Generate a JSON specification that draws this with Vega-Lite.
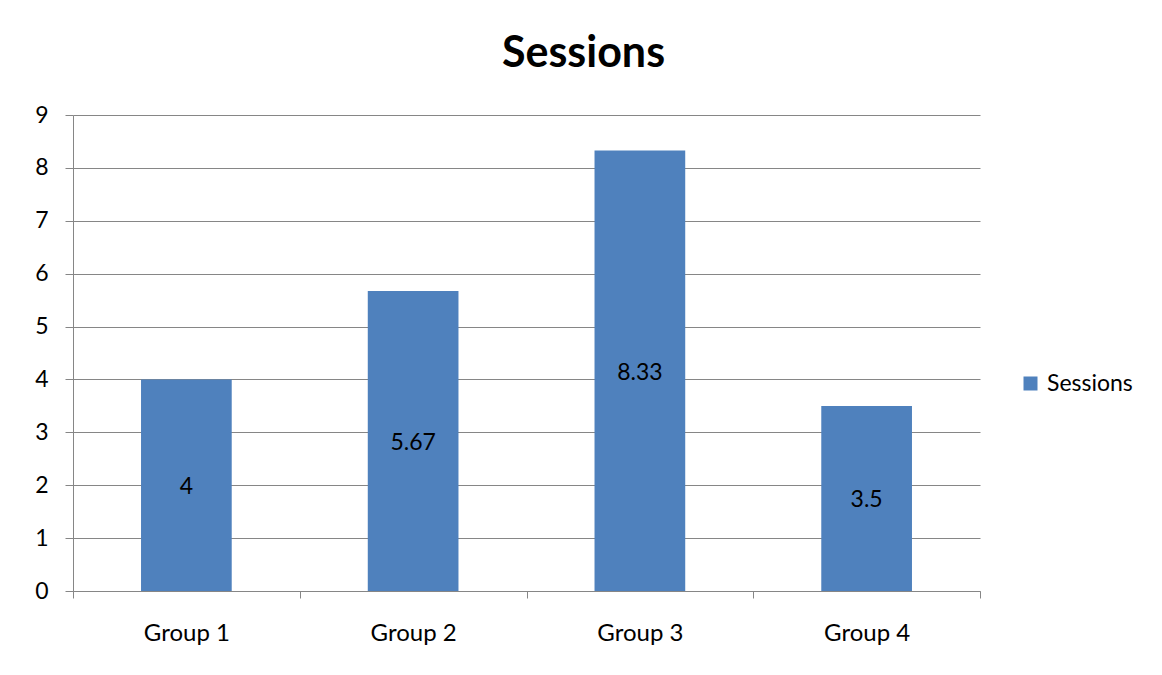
{
  "$schema": "https://vega.github.io/schema/vega-lite/v6.json",
  "width": 907,
  "height": 476,
  "autosize": "none",
  "padding": {"left": 73, "top": 115, "right": 182, "bottom": 84},
  "background": "white",
  "title": {
    "text": "Sessions",
    "font": "Lato",
    "fontSize": 43,
    "fontWeight": "bold",
    "color": "black",
    "anchor": "middle",
    "frame": "group",
    "dx": 57,
    "baseline": "alphabetic",
    "offset": -6
  },
  "data": {
    "values": [
      {"group": "Group 1", "value": 4, "series": "Sessions"},
      {"group": "Group 2", "value": 5.67, "series": "Sessions"},
      {"group": "Group 3", "value": 8.33, "series": "Sessions"},
      {"group": "Group 4", "value": 3.5, "series": "Sessions"}
    ]
  },
  "encoding": {
    "x": {
      "field": "group",
      "type": "nominal",
      "sort": null,
      "scale": {"paddingInner": 0, "paddingOuter": 0},
      "axis": {
        "title": null,
        "labelAngle": 0,
        "tickBand": "extent",
        "tickSize": 7,
        "tickColor": "#868686",
        "domainColor": "#868686",
        "labelFont": "Lato",
        "labelFontSize": 24,
        "labelColor": "black",
        "labelPadding": 23
      }
    }
  },
  "layer": [
    {
      "mark": {"type": "bar", "color": "#4F81BD", "width": {"band": 0.4}},
      "encoding": {
        "y": {
          "field": "value",
          "type": "quantitative",
          "scale": {"domain": [0, 9]},
          "axis": {
            "title": null,
            "values": [0, 1, 2, 3, 4, 5, 6, 7, 8, 9],
            "grid": true,
            "gridColor": "#868686",
            "gridOpacity": 1,
            "tickSize": 8,
            "tickColor": "#868686",
            "domainColor": "#868686",
            "labelFont": "Lato",
            "labelFontSize": 23,
            "labelColor": "black",
            "labelPadding": 17
          }
        },
        "color": {
          "field": "series",
          "type": "nominal",
          "scale": {"range": ["#4F81BD"]},
          "legend": {
            "title": null,
            "orient": "none",
            "legendX": 946,
            "legendY": 257,
            "padding": 0,
            "symbolType": "square",
            "symbolSize": 196,
            "symbolStrokeWidth": 0,
            "labelFont": "Lato",
            "labelFontSize": 23,
            "labelColor": "black",
            "labelOffset": 5
          }
        }
      }
    },
    {
      "mark": {"type": "text", "font": "Lato", "fontSize": 23, "color": "black", "baseline": "middle", "dy": 2},
      "encoding": {
        "y": {
          "field": "value",
          "type": "quantitative",
          "scale": {"domain": [0, 18]},
          "axis": null
        },
        "text": {"field": "value", "type": "quantitative"}
      }
    }
  ],
  "resolve": {"scale": {"y": "independent"}},
  "config": {"view": {"stroke": null}}
}
